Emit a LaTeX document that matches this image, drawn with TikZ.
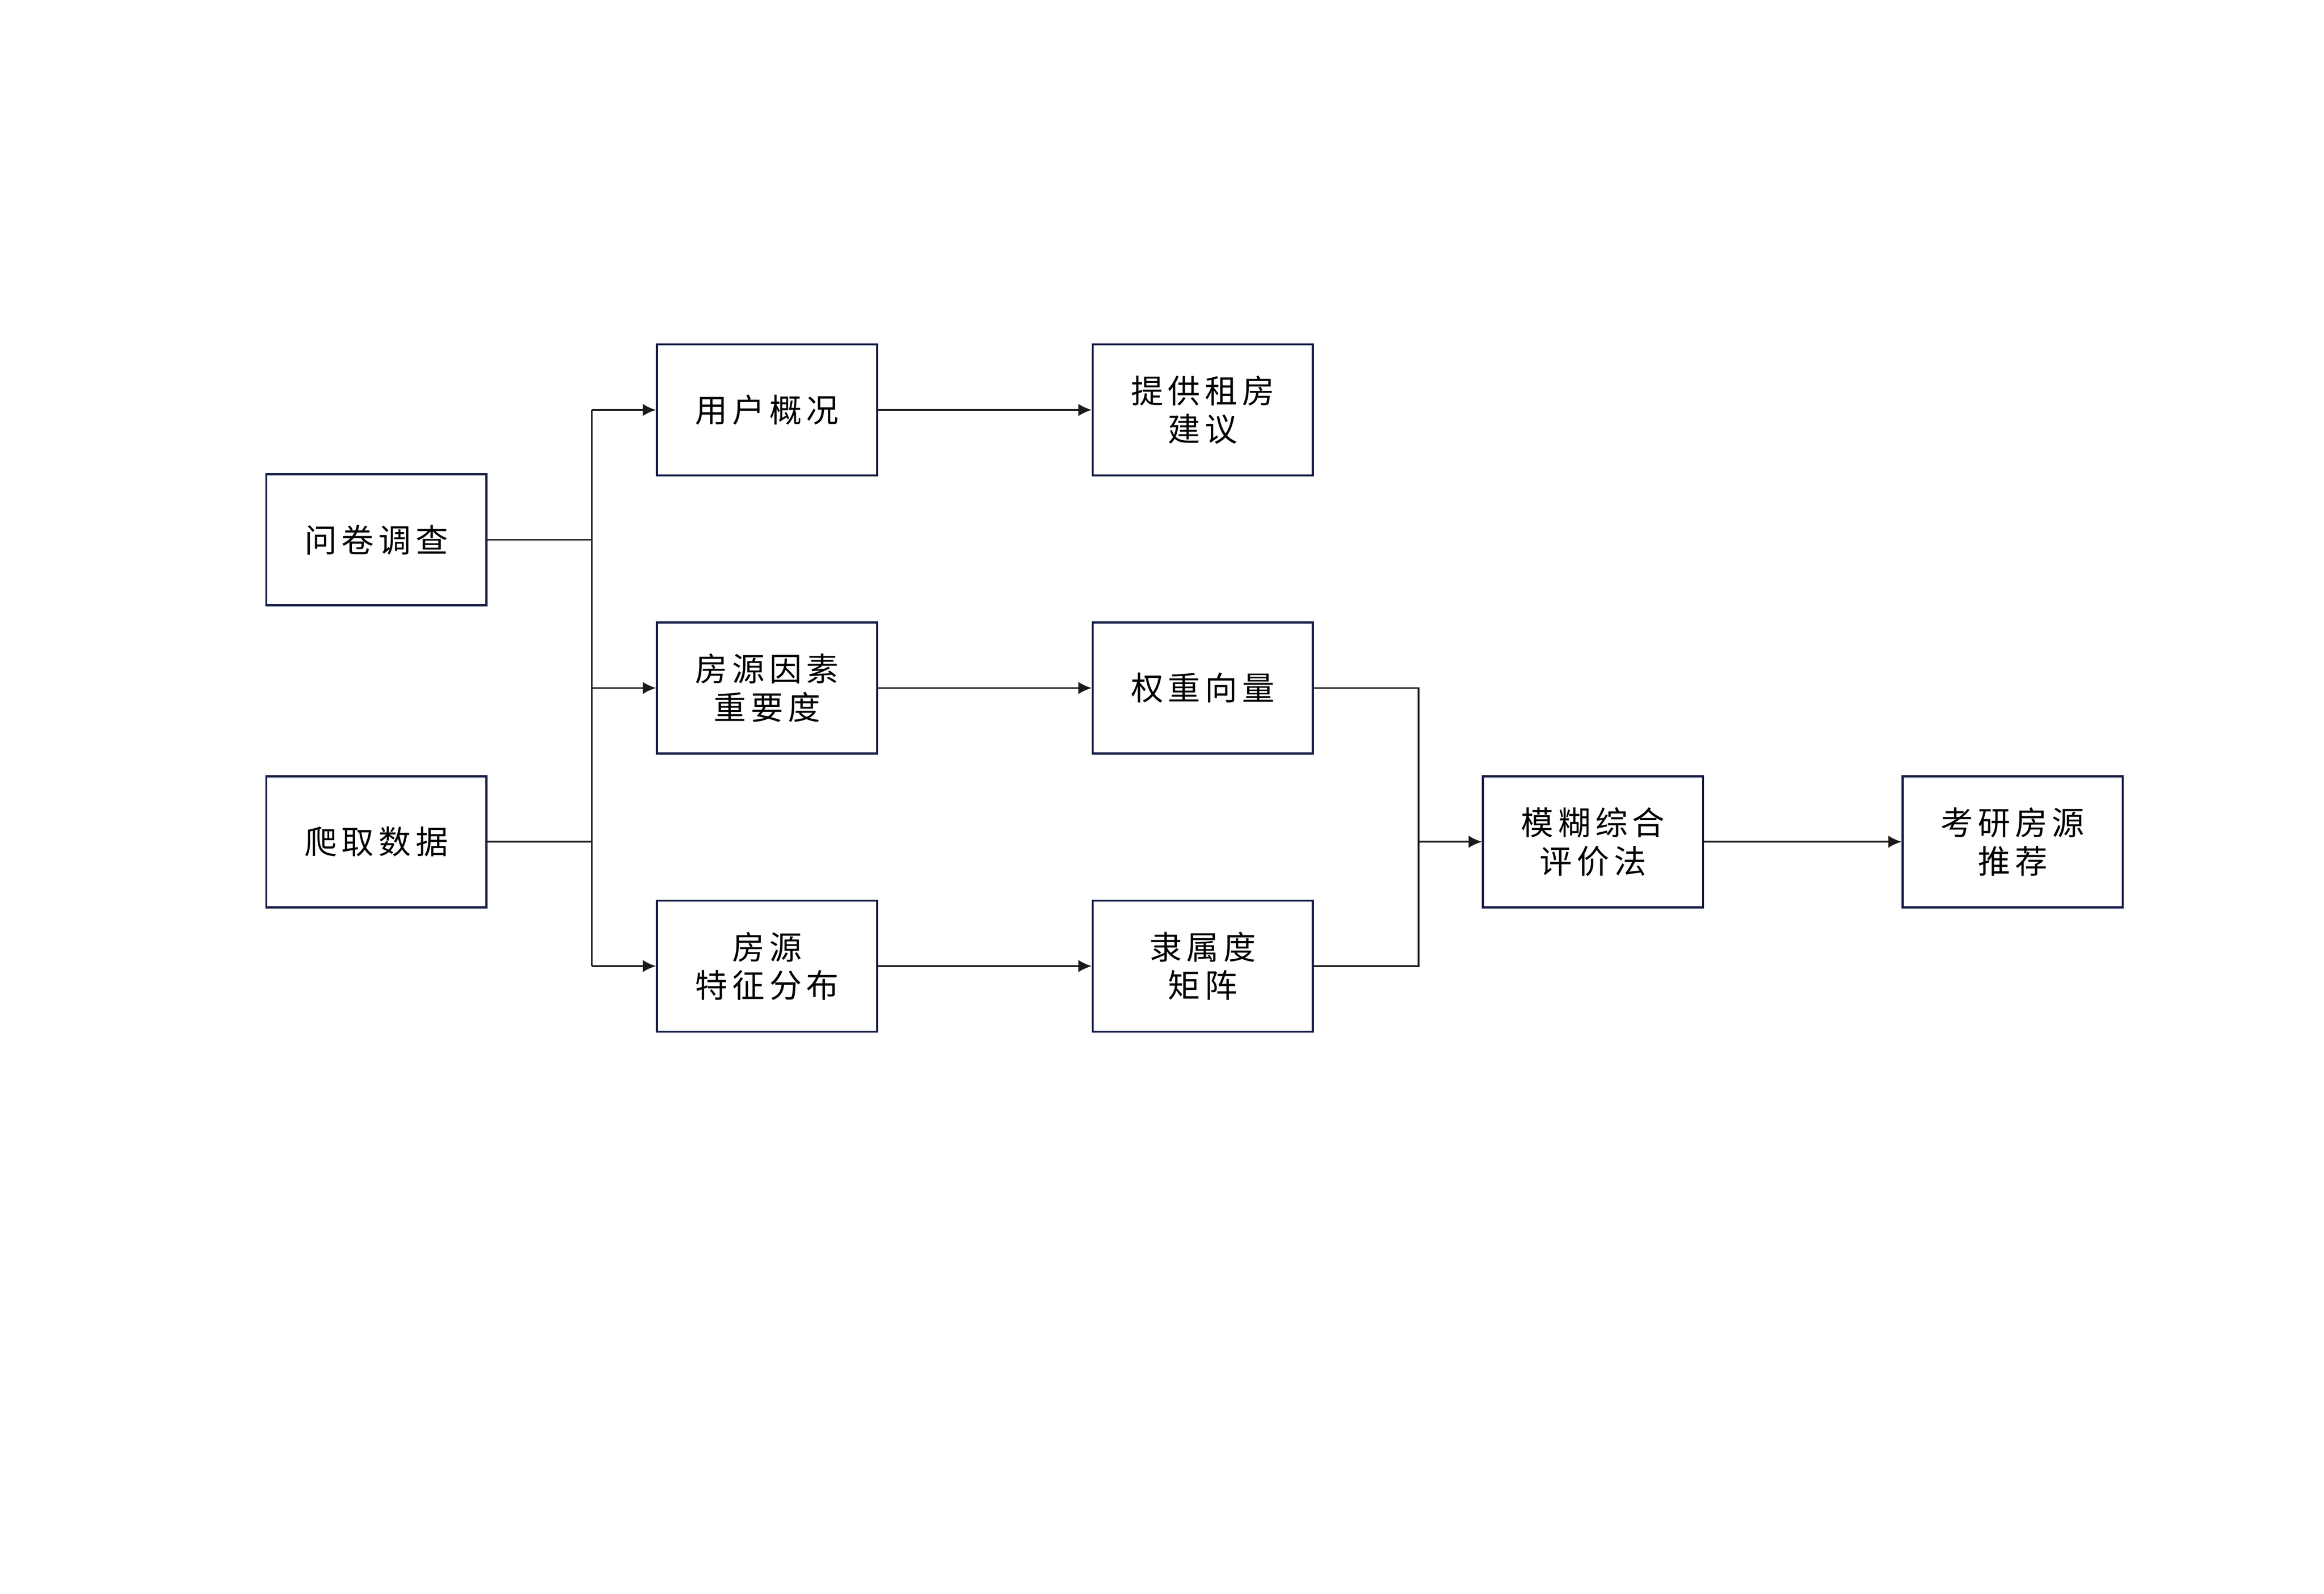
\documentclass[tikz,border=0pt]{standalone}
\usepackage{fontspec}
\newfontfamily\cjk[LetterSpace=14]{Noto Sans CJK SC}
\usetikzlibrary{arrows.meta}
\definecolor{boxline}{RGB}{20,27,69}
\definecolor{wire}{RGB}{26,26,26}
\tikzset{
  block/.style={draw=boxline, line width=0.71pt, minimum width=2.62cm,
    minimum height=1.56cm, align=center, inner sep=0pt, text=black,
    font=\fontsize{11pt}{13pt}\selectfont\cjk},
}
\begin{document}
\begin{tikzpicture}[node distance=3.31cm, >={Latex[length=4.5pt,width=4.2pt]},
  color=wire, line width=0.57pt]
  \useasboundingbox (0,0) rectangle (27.66,-18.97);

  \node[block] (factor) at (9.13,-8.19) {房源因素\\重要度};
  \node[block, above of=factor] (user) {用户概况};
  \node[block, below of=factor] (feature) {房源\\特征分布};

  \node[block] (survey) at (4.48,-6.425) {问卷调查};
  \node[block, node distance=3.595cm, below of=survey] (crawl) {爬取数据};

  \node[block, node distance=5.185cm, right of=user] (advice) {提供租房\\建议};
  \node[block, node distance=5.185cm, right of=factor] (weight) {权重向量};
  \node[block, node distance=5.185cm, right of=feature] (matrix) {隶属度\\矩阵};

  \node[block] (fuzzy) at (18.96,-10.02) {模糊综合\\评价法};
  \node[block, node distance=4.995cm, right of=fuzzy] (result) {考研房源\\推荐};

  \coordinate (busL) at (7.045,0);
  \coordinate (busR) at (16.885,0);

  \draw (survey.east) -- (survey.east -| busL);
  \draw (crawl.east) -- (crawl.east -| busL);
  \draw (busL |- user.west) -- (busL |- feature.west);
  \draw[->] (busL |- user.west) -- (user.west);
  \draw[->] (busL |- factor.west) -- (factor.west);
  \draw[->] (busL |- feature.west) -- (feature.west);

  \draw[->] (user) -- (advice);
  \draw[->] (factor) -- (weight);
  \draw[->] (feature) -- (matrix);

  \draw (weight.east) -- (weight.east -| busR) -- (matrix.east -| busR) -- (matrix.east);
  \draw[->] (busR |- fuzzy.west) -- (fuzzy.west);
  \draw[->] (fuzzy) -- (result);

\end{tikzpicture}
\end{document}
